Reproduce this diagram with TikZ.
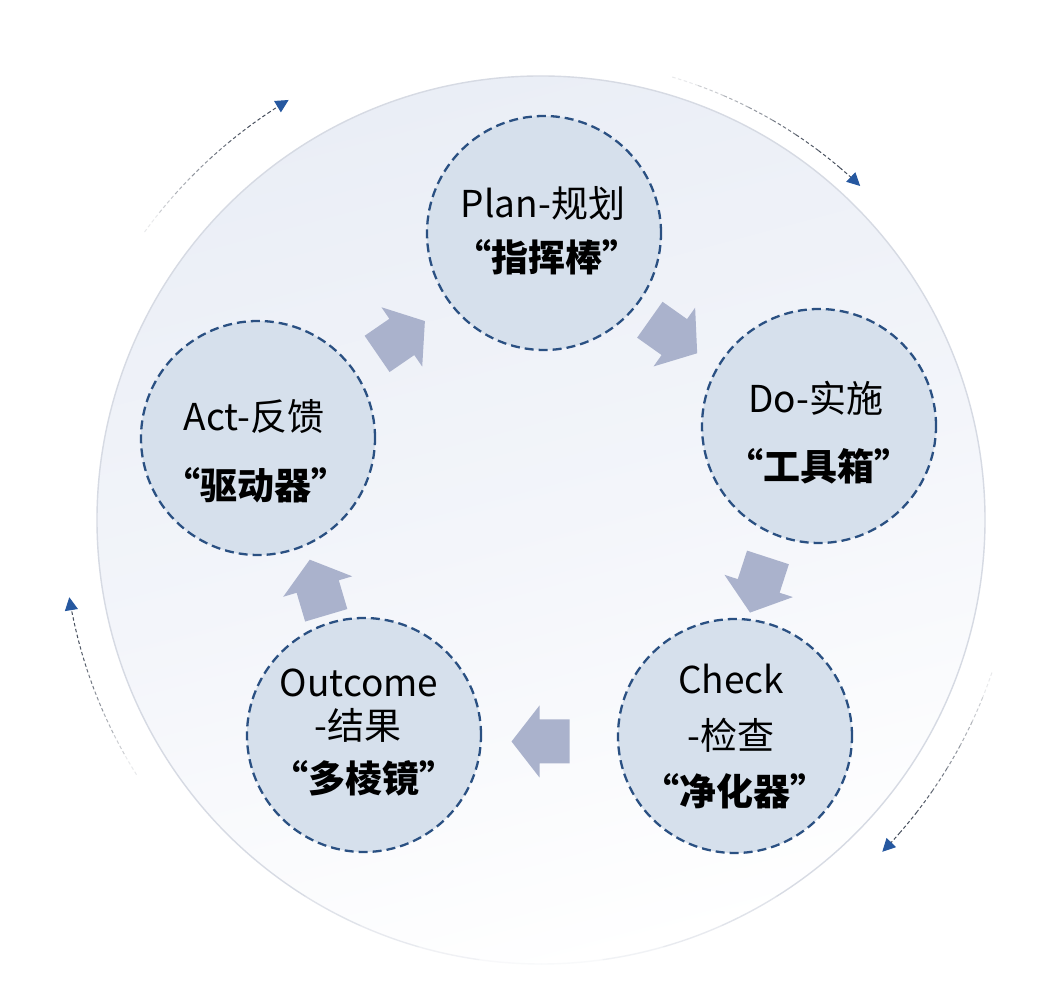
\documentclass[tikz,border=0pt]{standalone}
\usepackage{fontspec}
\setmainfont{Noto Sans CJK SC}
\usetikzlibrary{calc,arrows.meta}
\definecolor{bigtop}{RGB}{234,238,246}
\definecolor{bigedge}{RGB}{214,218,227}
\definecolor{nodefill}{RGB}{214,224,236}
\definecolor{nodeedge}{RGB}{42,80,130}
\definecolor{blockcol}{RGB}{170,178,204}
\definecolor{arcgray}{RGB}{70,78,92}
\definecolor{tipblue}{RGB}{38,88,160}
\tikzset{
  stage/.style={circle, minimum size=234pt, inner sep=0pt, fill=nodefill, draw=nodeedge, line width=2.3pt, dash pattern=on 9pt off 5pt},
  lbl/.style={anchor=base, font=\fontsize{37}{44}\selectfont, inner sep=0pt},
  blbl/.style={lbl, font=\fontsize{37}{44}\selectfont\bfseries},
  blockfill/.style={fill=blockcol},
  arcline/.style={draw=arcgray, line width=1pt, dash pattern=on 3.5pt off 2.5pt},
}
\newcommand{\blockarr}[4]{%
  \fill[blockfill, shift={($($(#1)!0.5!(#2)$)+(#4)$)}, rotate=#3]
    (-29,-22) -- (1,-22) -- (1,-36) -- (29,0) -- (1,36) -- (1,22) -- (-29,22) -- cycle;
}
\newcommand{\fadearc}[3]{%
  \foreach \i in {0,...,6}{%
    \pgfmathsetmacro\aa{#1+(#2-#1)*\i/8}%
    \pgfmathsetmacro\bb{#1+(#2-#1)*(\i+1)/8}%
    \pgfmathsetmacro\op{min(1,0.12+\i*0.16)}%
    \draw[arcline, draw opacity=\op] (O) ++(\aa:#3) arc[start angle=\aa, end angle=\bb, radius=#3];
  }%
  \pgfmathsetmacro\aa{#1+(#2-#1)*7/8}%
  \draw[arcline, -{Triangle[length=13pt,width=13pt,color=tipblue,fill=tipblue]}] (O) ++(\aa:#3) arc[start angle=\aa, end angle=#2, radius=#3];
}
\begin{document}
\begin{tikzpicture}[x=1pt,y=1pt]
\useasboundingbox (0,0) rectangle (1059,995);
\fill[white] (0,0) rectangle (1059,995);
\coordinate (O) at (541,475);
% big background circle
\shade[top color=bigtop, bottom color=white, middle color={rgb,255:red,243;green,245;blue,250}, shading angle=15] (O) circle[radius=444];
\draw[bigedge, line width=1.4pt] (O) ++(-50:444) arc[start angle=-50, end angle=230, radius=444];
\foreach \i in {0,...,9}{%
  \pgfmathsetmacro\aa{-50-\i*8}%
  \pgfmathsetmacro\bb{-50-(\i+1)*8}%
  \pgfmathsetmacro\op{abs(\i-4.5)/5+0.05}%
  \draw[bigedge, line width=1.4pt, draw opacity=\op] (O) ++(\aa:444) arc[start angle=\aa, end angle=\bb, radius=444];
}
% outer dashed arcs
\fadearc{144}{121}{490}
\fadearc{73.5}{46.3}{462}
\fadearc{-18.7}{-44.2}{476}
\fadearc{-147.8}{-170.7}{478}
% stage circles
\node[stage] (plan) at (544,762) {};
\node[stage] (do) at (819,569) {};
\node[stage] (check) at (735,259) {};
\node[stage] (outcome) at (364,260) {};
\node[stage] (act) at (258,557) {};
% block arrows
\blockarr{plan}{do}{-35.3}{-8,-7}
\blockarr{do}{check}{-108}{-18,-4}
\blockarr{check}{outcome}{180}{-9,-6}
\blockarr{outcome}{act}{106.5}{7,-1}
\blockarr{act}{plan}{34.5}{0,-2}
% labels
\node[lbl] (plan1) at (543,777) {Plan-规划};
\node[blbl] (plan2) at (547,723) {“指挥棒”};
\node[lbl] (do1) at (816,582) {Do-实施};
\node[blbl] (do2) at (819,514) {“工具箱”};
\node[lbl] (act1) at (254,564) {Act-反馈};
\node[blbl] (act2) at (256,495) {“驱动器”};
\node[lbl] (out1) at (359,298) {Outcome};
\node[lbl] (out2) at (358,255) {-结果};
\node[blbl] (out3) at (364,202) {“多棱镜”};
\node[lbl] (chk1) at (731,301) {Check};
\node[lbl] (chk2) at (731,245) {-检查};
\node[blbl] (chk3) at (735,189) {“净化器”};
\end{tikzpicture}
\end{document}
